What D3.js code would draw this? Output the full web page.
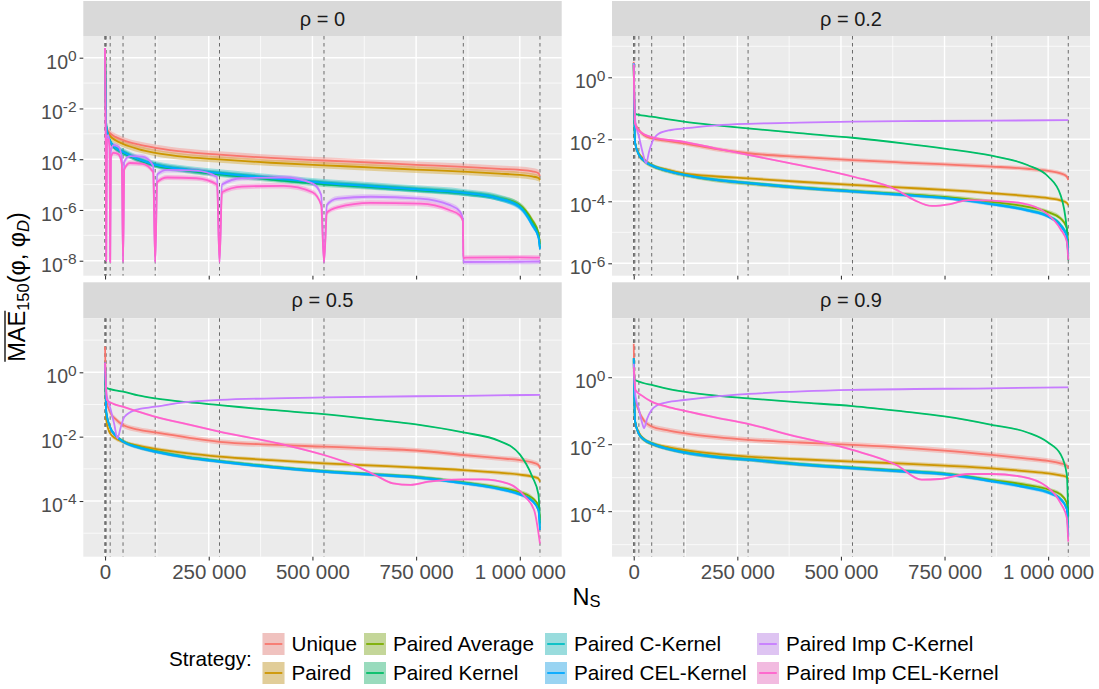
<!DOCTYPE html>
<html><head><meta charset="utf-8">
<script src="https://cdn.jsdelivr.net/npm/d3@7"></script>
<style>body{margin:0;background:#fff}svg{display:block}</style>
</head><body><svg id="chart" width="1099" height="689"></svg>
<script>
// ---------------- DATA ----------------
const strategies = ["Unique","Paired","Paired Average","Paired Kernel","Paired C-Kernel","Paired CEL-Kernel","Paired Imp C-Kernel","Paired Imp CEL-Kernel"];
const strategyColors = ["#F8766D","#CD9600","#7CAE00","#00BE67","#00BFC4","#00A9FF","#C77CFF","#FF61CC"];
const rhoLabels = ["0","0.2","0.5","0.9"];
const xTicks = [0,250000,500000,750000,1000000];
const xMinorTicks = [125000,375000,625000,875000];
const dashedNs = [2,42,422,2702,12392,43400,120920,275960,527900,863820,1048576];
const yTickExponents = [[0,-2,-4,-6,-8],[0,-2,-4,-6],[0,-2,-4],[0,-2,-4]];
const yMinorExponents = [[-1,-3,-5,-7],[1,-1,-3,-5],[1,-1,-3,-5],[1,-1,-3,-5]];

// shared N_S grid (values below are log10 of MAE)
const nsGrid = [2,3000,12392,25000,43400,80000,120920,200000,275960,400000,527900,650000,750000,863820,950000,1000000,1030000,1045000,1048576];

// rho = 0
const rho0_unique   = [0.38,-2.75,-2.98,-3.12,-3.25,-3.42,-3.55,-3.72,-3.82,-3.95,-4.05,-4.14,-4.22,-4.30,-4.38,-4.42,-4.48,-4.55,-4.66];
const rho0_paired   = [0.38,-2.80,-3.09,-3.25,-3.40,-3.60,-3.75,-3.92,-4.01,-4.14,-4.24,-4.33,-4.41,-4.49,-4.57,-4.62,-4.68,-4.74,-4.82];
const rho0_average  = [0.38,-2.70,-3.30,-3.55,-3.72,-4.00,-4.22,-4.42,-4.56,-4.75,-4.94,-5.07,-5.18,-5.32,-5.52,-5.80,-6.40,-6.90,-7.35];
const rho0_kernel   = [0.38,-2.70,-3.32,-3.57,-3.75,-4.03,-4.25,-4.46,-4.60,-4.80,-4.99,-5.11,-5.22,-5.35,-5.55,-5.85,-6.50,-7.00,-7.50];
const rho0_cKernel  = [0.38,-2.70,-3.28,-3.53,-3.70,-3.98,-4.20,-4.40,-4.53,-4.72,-4.91,-5.05,-5.16,-5.30,-5.52,-5.85,-6.55,-7.05,-7.50];
const rho0_celKernel= [0.38,-2.70,-3.30,-3.55,-3.72,-4.00,-4.22,-4.42,-4.56,-4.75,-4.94,-5.08,-5.19,-5.33,-5.56,-5.90,-6.60,-7.10,-7.55];
const rho0_imp_ns   = [2,1500,2702,4500,8000,11000,12392,13900,20000,32000,40500,43400,46300,60000,90000,116000,120920,125800,150000,220000,270000,275960,282000,330000,430000,500000,521000,527900,535000,560000,640000,760000,830000,855000,863000,863820,870000,1000000,1048576];
const rho0_impC     = [0.38,-3.0,-8.0,-3.1,-3.05,-3.5,-8.05,-3.7,-3.45,-3.5,-3.95,-8.05,-4.1,-3.88,-3.9,-4.25,-8.05,-4.6,-4.42,-4.45,-4.7,-8.05,-5.0,-4.75,-4.72,-4.95,-5.4,-8.05,-5.8,-5.55,-5.48,-5.55,-5.8,-6.05,-6.35,-8.05,-8.05,-8.04,-8.03];
const rho0_impCEL   = [0.38,-3.1,-8.0,-3.25,-3.2,-3.6,-8.05,-3.95,-3.75,-3.8,-4.2,-8.05,-4.4,-4.15,-4.18,-4.5,-8.05,-4.9,-4.72,-4.75,-5.0,-8.05,-5.3,-5.08,-5.05,-5.3,-5.8,-8.05,-6.1,-5.9,-5.72,-5.75,-6.0,-6.2,-6.45,-7.9,-7.88,-7.87,-7.88];

// rho = 0.2
const rho02_unique   = [0.50,-1.45,-1.70,-1.87,-1.97,-2.05,-2.13,-2.32,-2.45,-2.57,-2.67,-2.75,-2.81,-2.88,-2.95,-3.02,-3.10,-3.20,-3.31];
const rho02_paired   = [0.40,-2.10,-2.45,-2.65,-2.83,-2.98,-3.10,-3.20,-3.26,-3.37,-3.47,-3.56,-3.63,-3.74,-3.83,-3.90,-3.97,-4.05,-4.12];
const rho02_average  = [0.45,-2.10,-2.50,-2.70,-2.85,-3.02,-3.15,-3.32,-3.42,-3.56,-3.67,-3.77,-3.86,-4.02,-4.18,-4.35,-4.55,-4.85,-5.50];
const rho02_kernel   = [0.45,-1.18,-1.21,-1.24,-1.27,-1.35,-1.43,-1.55,-1.65,-1.80,-1.95,-2.13,-2.30,-2.53,-2.83,-3.20,-3.80,-4.90,-5.90];
const rho02_cKernel  = [0.45,-2.08,-2.48,-2.68,-2.83,-3.00,-3.13,-3.30,-3.40,-3.55,-3.67,-3.78,-3.88,-4.08,-4.28,-4.47,-4.75,-5.10,-5.70];
const rho02_celKernel= [0.45,-2.10,-2.50,-2.70,-2.85,-3.02,-3.15,-3.32,-3.42,-3.57,-3.69,-3.80,-3.90,-4.10,-4.30,-4.50,-4.80,-5.15,-5.78];
const rho02_impC_ns  = [2,4000,12392,22000,30000,37000,43400,60000,90000,120920,200000,275960,400000,527900,700000,863820,1048576];
const rho02_impC     = [0.45,-1.45,-1.90,-2.45,-2.77,-2.40,-2.13,-1.82,-1.70,-1.65,-1.55,-1.50,-1.46,-1.43,-1.41,-1.40,-1.38];
const rho02_impCEL_ns= [2,3000,12392,43400,120920,200000,275960,376000,527900,634000,677000,720000,764000,807000,863820,935000,996000,1030000,1045000,1048576];
const rho02_impCEL   = [0.40,-1.50,-1.72,-1.93,-2.08,-2.30,-2.50,-2.77,-3.20,-3.63,-3.96,-4.15,-4.09,-3.96,-3.98,-4.06,-4.39,-4.90,-5.30,-5.89];

// rho = 0.5
const rho05_unique   = [0.80,-0.85,-1.25,-1.45,-1.64,-1.78,-1.87,-2.03,-2.16,-2.25,-2.31,-2.37,-2.43,-2.57,-2.67,-2.73,-2.80,-2.88,-2.98];
const rho05_paired   = [0.30,-1.50,-1.90,-2.05,-2.16,-2.28,-2.38,-2.52,-2.62,-2.73,-2.83,-2.90,-2.96,-3.04,-3.12,-3.18,-3.24,-3.30,-3.40];
const rho05_average  = [0.30,-1.25,-1.72,-1.96,-2.14,-2.32,-2.45,-2.64,-2.76,-2.93,-3.07,-3.17,-3.25,-3.42,-3.58,-3.72,-3.90,-4.15,-4.60];
const rho05_kernel   = [0.30,-0.48,-0.52,-0.56,-0.60,-0.72,-0.81,-0.93,-1.02,-1.17,-1.30,-1.47,-1.62,-1.87,-2.13,-2.55,-3.24,-3.80,-4.69];
const rho05_cKernel  = [0.30,-1.23,-1.70,-1.95,-2.14,-2.32,-2.45,-2.64,-2.76,-2.93,-3.07,-3.17,-3.25,-3.43,-3.61,-3.78,-3.98,-4.28,-4.85];
const rho05_celKernel= [0.30,-1.25,-1.72,-1.97,-2.16,-2.34,-2.47,-2.66,-2.78,-2.95,-3.09,-3.19,-3.27,-3.45,-3.63,-3.80,-4.00,-4.30,-4.90];
const rho05_impC_ns  = [2,4000,12392,22000,30000,38000,47000,73000,120920,194000,275960,527900,863820,1048576];
const rho05_impC     = [0.30,-0.70,-1.10,-1.60,-2.05,-1.70,-1.38,-1.17,-1.07,-0.93,-0.86,-0.78,-0.73,-0.70];
const rho05_impCEL_ns= [2,4300,20000,43000,80000,120700,200000,275000,435000,527700,608000,651000,694000,737000,780000,865000,910000,970000,1013000,1035000,1048576];
const rho05_impCEL   = [0.30,-0.86,-0.98,-1.07,-1.22,-1.38,-1.62,-1.84,-2.26,-2.57,-2.93,-3.19,-3.45,-3.50,-3.40,-3.33,-3.33,-3.45,-3.87,-4.30,-5.32];

// rho = 0.9
const rho09_unique   = [1.00,-0.60,-1.00,-1.30,-1.47,-1.58,-1.67,-1.79,-1.87,-1.95,-2.02,-2.10,-2.19,-2.32,-2.43,-2.50,-2.57,-2.64,-2.72];
const rho09_paired   = [0.50,-1.30,-1.65,-1.85,-1.97,-2.08,-2.17,-2.29,-2.37,-2.45,-2.52,-2.58,-2.64,-2.72,-2.81,-2.87,-2.93,-2.98,-3.04];
const rho09_average  = [0.57,-1.30,-1.70,-1.87,-1.99,-2.13,-2.24,-2.38,-2.46,-2.60,-2.70,-2.80,-2.88,-3.07,-3.22,-3.35,-3.50,-3.75,-4.50];
const rho09_kernel   = [0.20,-0.08,-0.13,-0.18,-0.23,-0.34,-0.43,-0.55,-0.63,-0.75,-0.86,-1.02,-1.17,-1.42,-1.65,-1.95,-2.30,-2.90,-4.16];
const rho09_cKernel  = [0.57,-1.28,-1.68,-1.85,-1.97,-2.12,-2.23,-2.37,-2.45,-2.59,-2.70,-2.80,-2.88,-3.09,-3.28,-3.43,-3.63,-3.92,-4.70];
const rho09_celKernel= [0.57,-1.30,-1.70,-1.87,-1.99,-2.14,-2.25,-2.39,-2.47,-2.61,-2.72,-2.82,-2.90,-3.11,-3.30,-3.45,-3.65,-3.95,-4.76];
const rho09_impC_ns  = [2,4300,12392,20000,25000,32000,43000,57700,80000,120920,200000,275960,527900,863820,1048576];
const rho09_impC     = [0.40,-0.58,-0.95,-1.35,-1.52,-1.25,-0.98,-0.83,-0.75,-0.68,-0.57,-0.50,-0.38,-0.33,-0.30];
const rho09_impCEL_ns= [2,4300,20000,43000,80000,120500,204000,275500,376000,527700,634000,695000,738000,807000,864300,936000,996000,1030000,1045000,1048576];
const rho09_impCEL   = [0.30,-0.38,-0.55,-0.73,-0.88,-1.00,-1.22,-1.39,-1.72,-2.17,-2.62,-3.06,-3.04,-2.89,-2.89,-2.97,-3.26,-3.76,-4.20,-4.91];

// ribbon half-widths (log10) per strategy, per panel
const rho0_band  = [0.13,0.13,0.10,0.10,0.13,0.10,0.10,0.10];
const rho02_band = [0.07,0.06,0.07,0.015,0.05,0.05,0.015,0.03];
const rho05_band = [0.08,0.06,0.06,0.015,0.05,0.05,0.015,0.03];
const rho09_band = [0.08,0.06,0.06,0.015,0.05,0.05,0.015,0.03];

const panels = [
  {label: rhoLabels[0], band: rho0_band, series: [
    [nsGrid,rho0_unique],[nsGrid,rho0_paired],[nsGrid,rho0_average],[nsGrid,rho0_kernel],
    [nsGrid,rho0_cKernel],[nsGrid,rho0_celKernel],[rho0_imp_ns,rho0_impC],[rho0_imp_ns,rho0_impCEL]]},
  {label: rhoLabels[1], band: rho02_band, series: [
    [nsGrid,rho02_unique],[nsGrid,rho02_paired],[nsGrid,rho02_average],[nsGrid,rho02_kernel],
    [nsGrid,rho02_cKernel],[nsGrid,rho02_celKernel],[rho02_impC_ns,rho02_impC],[rho02_impCEL_ns,rho02_impCEL]]},
  {label: rhoLabels[2], band: rho05_band, series: [
    [nsGrid,rho05_unique],[nsGrid,rho05_paired],[nsGrid,rho05_average],[nsGrid,rho05_kernel],
    [nsGrid,rho05_cKernel],[nsGrid,rho05_celKernel],[rho05_impC_ns,rho05_impC],[rho05_impCEL_ns,rho05_impCEL]]},
  {label: rhoLabels[3], band: rho09_band, series: [
    [nsGrid,rho09_unique],[nsGrid,rho09_paired],[nsGrid,rho09_average],[nsGrid,rho09_kernel],
    [nsGrid,rho09_cKernel],[nsGrid,rho09_celKernel],[rho09_impC_ns,rho09_impC],[rho09_impCEL_ns,rho09_impCEL]]}
];

// ---------------- LAYOUT ----------------
const FONT = '"Liberation Sans", Arial, Helvetica, sans-serif';
const svg = d3.select("#chart");
svg.append("rect").attr("width",1099).attr("height",689).attr("fill","#fff");
const panelCols = [[83.3,561.7],[612,1090]];
const panelRows = [{strip:[1,36], plot:[36,275.7]},{strip:[282.3,318.3], plot:[318.3,556.7]}];
const xDomain = [-52429, 1101005];
const yDomainsLog10 = [[-8.59,0.855],[-6.40,1.332],[-5.73,1.678],[-5.36,1.76]];
const fmtX = d3.formatLocale({decimal:".", thousands:" ", grouping:[3], currency:["",""]}).format(",");

panels.forEach((p,i)=>{
  const c = i%2, r = Math.floor(i/2);
  const [x0,x1] = panelCols[c];
  const row = panelRows[r];
  const [py0,py1] = row.plot;
  const x = d3.scaleLinear().domain(xDomain).range([x0,x1]);
  const y = d3.scaleLog().domain([Math.pow(10,yDomainsLog10[i][0]), Math.pow(10,yDomainsLog10[i][1])]).range([py1,py0]);

  // strip
  svg.append("rect").attr("x",x0).attr("y",row.strip[0]).attr("width",x1-x0).attr("height",row.strip[1]-row.strip[0]).attr("fill","#D9D9D9");
  svg.append("text").attr("x",(x0+x1)/2).attr("y",(row.strip[0]+row.strip[1])/2+7)
    .attr("text-anchor","middle").attr("font-family",FONT).attr("font-size",20).attr("fill","#1A1A1A")
    .text("ρ = "+p.label);

  // panel background
  svg.append("rect").attr("x",x0).attr("y",py0).attr("width",x1-x0).attr("height",py1-py0).attr("fill","#EBEBEB");
  const grid = svg.append("g");
  yMinorExponents[i].forEach(e=>{
    const yy = y(Math.pow(10,e));
    if (yy>=py0 && yy<=py1) grid.append("line").attr("x1",x0).attr("x2",x1).attr("y1",yy).attr("y2",yy).attr("stroke","#fff").attr("stroke-width",0.7);
  });
  xMinorTicks.forEach(v=>{
    grid.append("line").attr("x1",x(v)).attr("x2",x(v)).attr("y1",py0).attr("y2",py1).attr("stroke","#fff").attr("stroke-width",0.7);
  });
  yTickExponents[i].forEach(e=>{
    const yy = y(Math.pow(10,e));
    grid.append("line").attr("x1",x0).attr("x2",x1).attr("y1",yy).attr("y2",yy).attr("stroke","#fff").attr("stroke-width",1.4);
  });
  xTicks.forEach(v=>{
    grid.append("line").attr("x1",x(v)).attr("x2",x(v)).attr("y1",py0).attr("y2",py1).attr("stroke","#fff").attr("stroke-width",1.4);
  });

  // dashed reference lines
  dashedNs.forEach(v=>{
    grid.append("line").attr("x1",x(v)).attr("x2",x(v)).attr("y1",py0).attr("y2",py1)
      .attr("stroke","#6B6B6B").attr("stroke-width",1).attr("stroke-dasharray","3.5,3.5");
  });

  // clip
  const clipId = "clip"+i;
  svg.append("clipPath").attr("id",clipId).append("rect").attr("x",x0).attr("y",py0).attr("width",x1-x0).attr("height",py1-py0);
  const plot = svg.append("g").attr("clip-path",`url(#${clipId})`);

  const area = (h)=>d3.area().curve(d3.curveMonotoneX)
    .x(d=>x(d[0])).y0(d=>y(Math.pow(10,d[1]-h))).y1(d=>y(Math.pow(10,d[1]+h)));
  const line = d3.line().curve(d3.curveMonotoneX).x(d=>x(d[0])).y(d=>y(Math.pow(10,d[1])));

  const seriesPts = p.series.map(([ns,vals])=>ns.map((n,k)=>[n,vals[k]]));
  seriesPts.forEach((pts,k)=>{
    plot.append("path").datum(pts).attr("d",area(p.band[k])).attr("fill",strategyColors[k]).attr("fill-opacity",0.35);
  });
  seriesPts.forEach((pts,k)=>{
    plot.append("path").datum(pts).attr("d",line).attr("fill","none").attr("stroke",strategyColors[k]).attr("stroke-width",1.8);
  });

  // axes
  const gx = svg.append("g").attr("transform",`translate(0,${py1})`)
    .call(d3.axisBottom(x).tickValues(xTicks).tickFormat(fmtX).tickSize(3.7).tickPadding(4.5));
  gx.select(".domain").remove();
  gx.selectAll(".tick line").attr("stroke","#333333").attr("stroke-width",1.07);
  gx.selectAll(".tick text").attr("fill","#4D4D4D").attr("font-size",20.5).attr("font-family",FONT);
  if (r===0) gx.selectAll(".tick text").remove();

  const gy = svg.append("g").attr("transform",`translate(${x0},0)`)
    .call(d3.axisLeft(y).tickValues(yTickExponents[i].map(e=>Math.pow(10,e))).tickFormat(()=>"").tickSize(3.7).tickPadding(3));
  gy.select(".domain").remove();
  gy.selectAll(".tick line").attr("stroke","#333333").attr("stroke-width",1.07);
  gy.selectAll(".tick text").each(function(d){
    const t = d3.select(this).attr("fill","#4D4D4D").attr("font-family",FONT).attr("font-size",19.5).attr("dy","0.54em");
    t.text("");
    t.append("tspan").text("10");
    t.append("tspan").attr("font-size",15.5).attr("dy","-0.5em").text(String(Math.round(Math.log10(d))));
  });
});

// axis titles
const xt = svg.append("text").attr("x",586.6).attr("y",605).attr("text-anchor","middle")
  .attr("font-family",FONT).attr("font-size",23.5).attr("fill","#000");
xt.append("tspan").text("N");
xt.append("tspan").attr("font-size",16.5).attr("dy",2).text("S");

const ytg = svg.append("g").attr("transform","translate(25,287) rotate(-90)");
const yt = ytg.append("text").attr("font-family",FONT).attr("font-size",23.5).attr("fill","#000");
yt.append("tspan").text("MAE");
yt.append("tspan").attr("font-size",16.5).attr("dy",4).text("150");
yt.append("tspan").attr("dy",-4).text("(φ, φ");
yt.append("tspan").attr("font-size",16.5).attr("font-style","italic").attr("dy",4).text("D");
yt.append("tspan").attr("dy",-4).text(")");
const L = yt.node().getComputedTextLength();
yt.attr("x",-L/2);
const wMAE = yt.node().getSubStringLength(0,3);
ytg.append("line").attr("x1",-L/2).attr("x2",-L/2+wMAE).attr("y1",-20).attr("y2",-20).attr("stroke","#000").attr("stroke-width",1.3);

// legend
const legend = svg.append("g");
legend.append("text").attr("x",169).attr("y",666).attr("font-family",FONT).attr("font-size",20.7).attr("fill","#000").text("Strategy:");
const colBoxX = [262.5,364,545,757];
const rowBoxY = [633,662];
const keyW = 22, keyH = 22;
strategies.forEach((s,k)=>{
  const col = Math.floor(k/2), rw = k%2;
  const bx = colBoxX[col], by = rowBoxY[rw];
  legend.append("rect").attr("x",bx).attr("y",by).attr("width",keyW).attr("height",keyH).attr("fill","#EBEBEB");
  legend.append("rect").attr("x",bx).attr("y",by).attr("width",keyW).attr("height",keyH).attr("fill",strategyColors[k]).attr("fill-opacity",0.35);
  legend.append("line").attr("x1",bx+keyW*0.1).attr("x2",bx+keyW*0.9).attr("y1",by+keyH/2).attr("y2",by+keyH/2)
    .attr("stroke",strategyColors[k]).attr("stroke-width",1.8);
  legend.append("text").attr("x",bx+keyW+7).attr("y",by+keyH/2+7.3).attr("font-family",FONT).attr("font-size",20.7).attr("fill","#000").text(s);
});
</script></body></html>
